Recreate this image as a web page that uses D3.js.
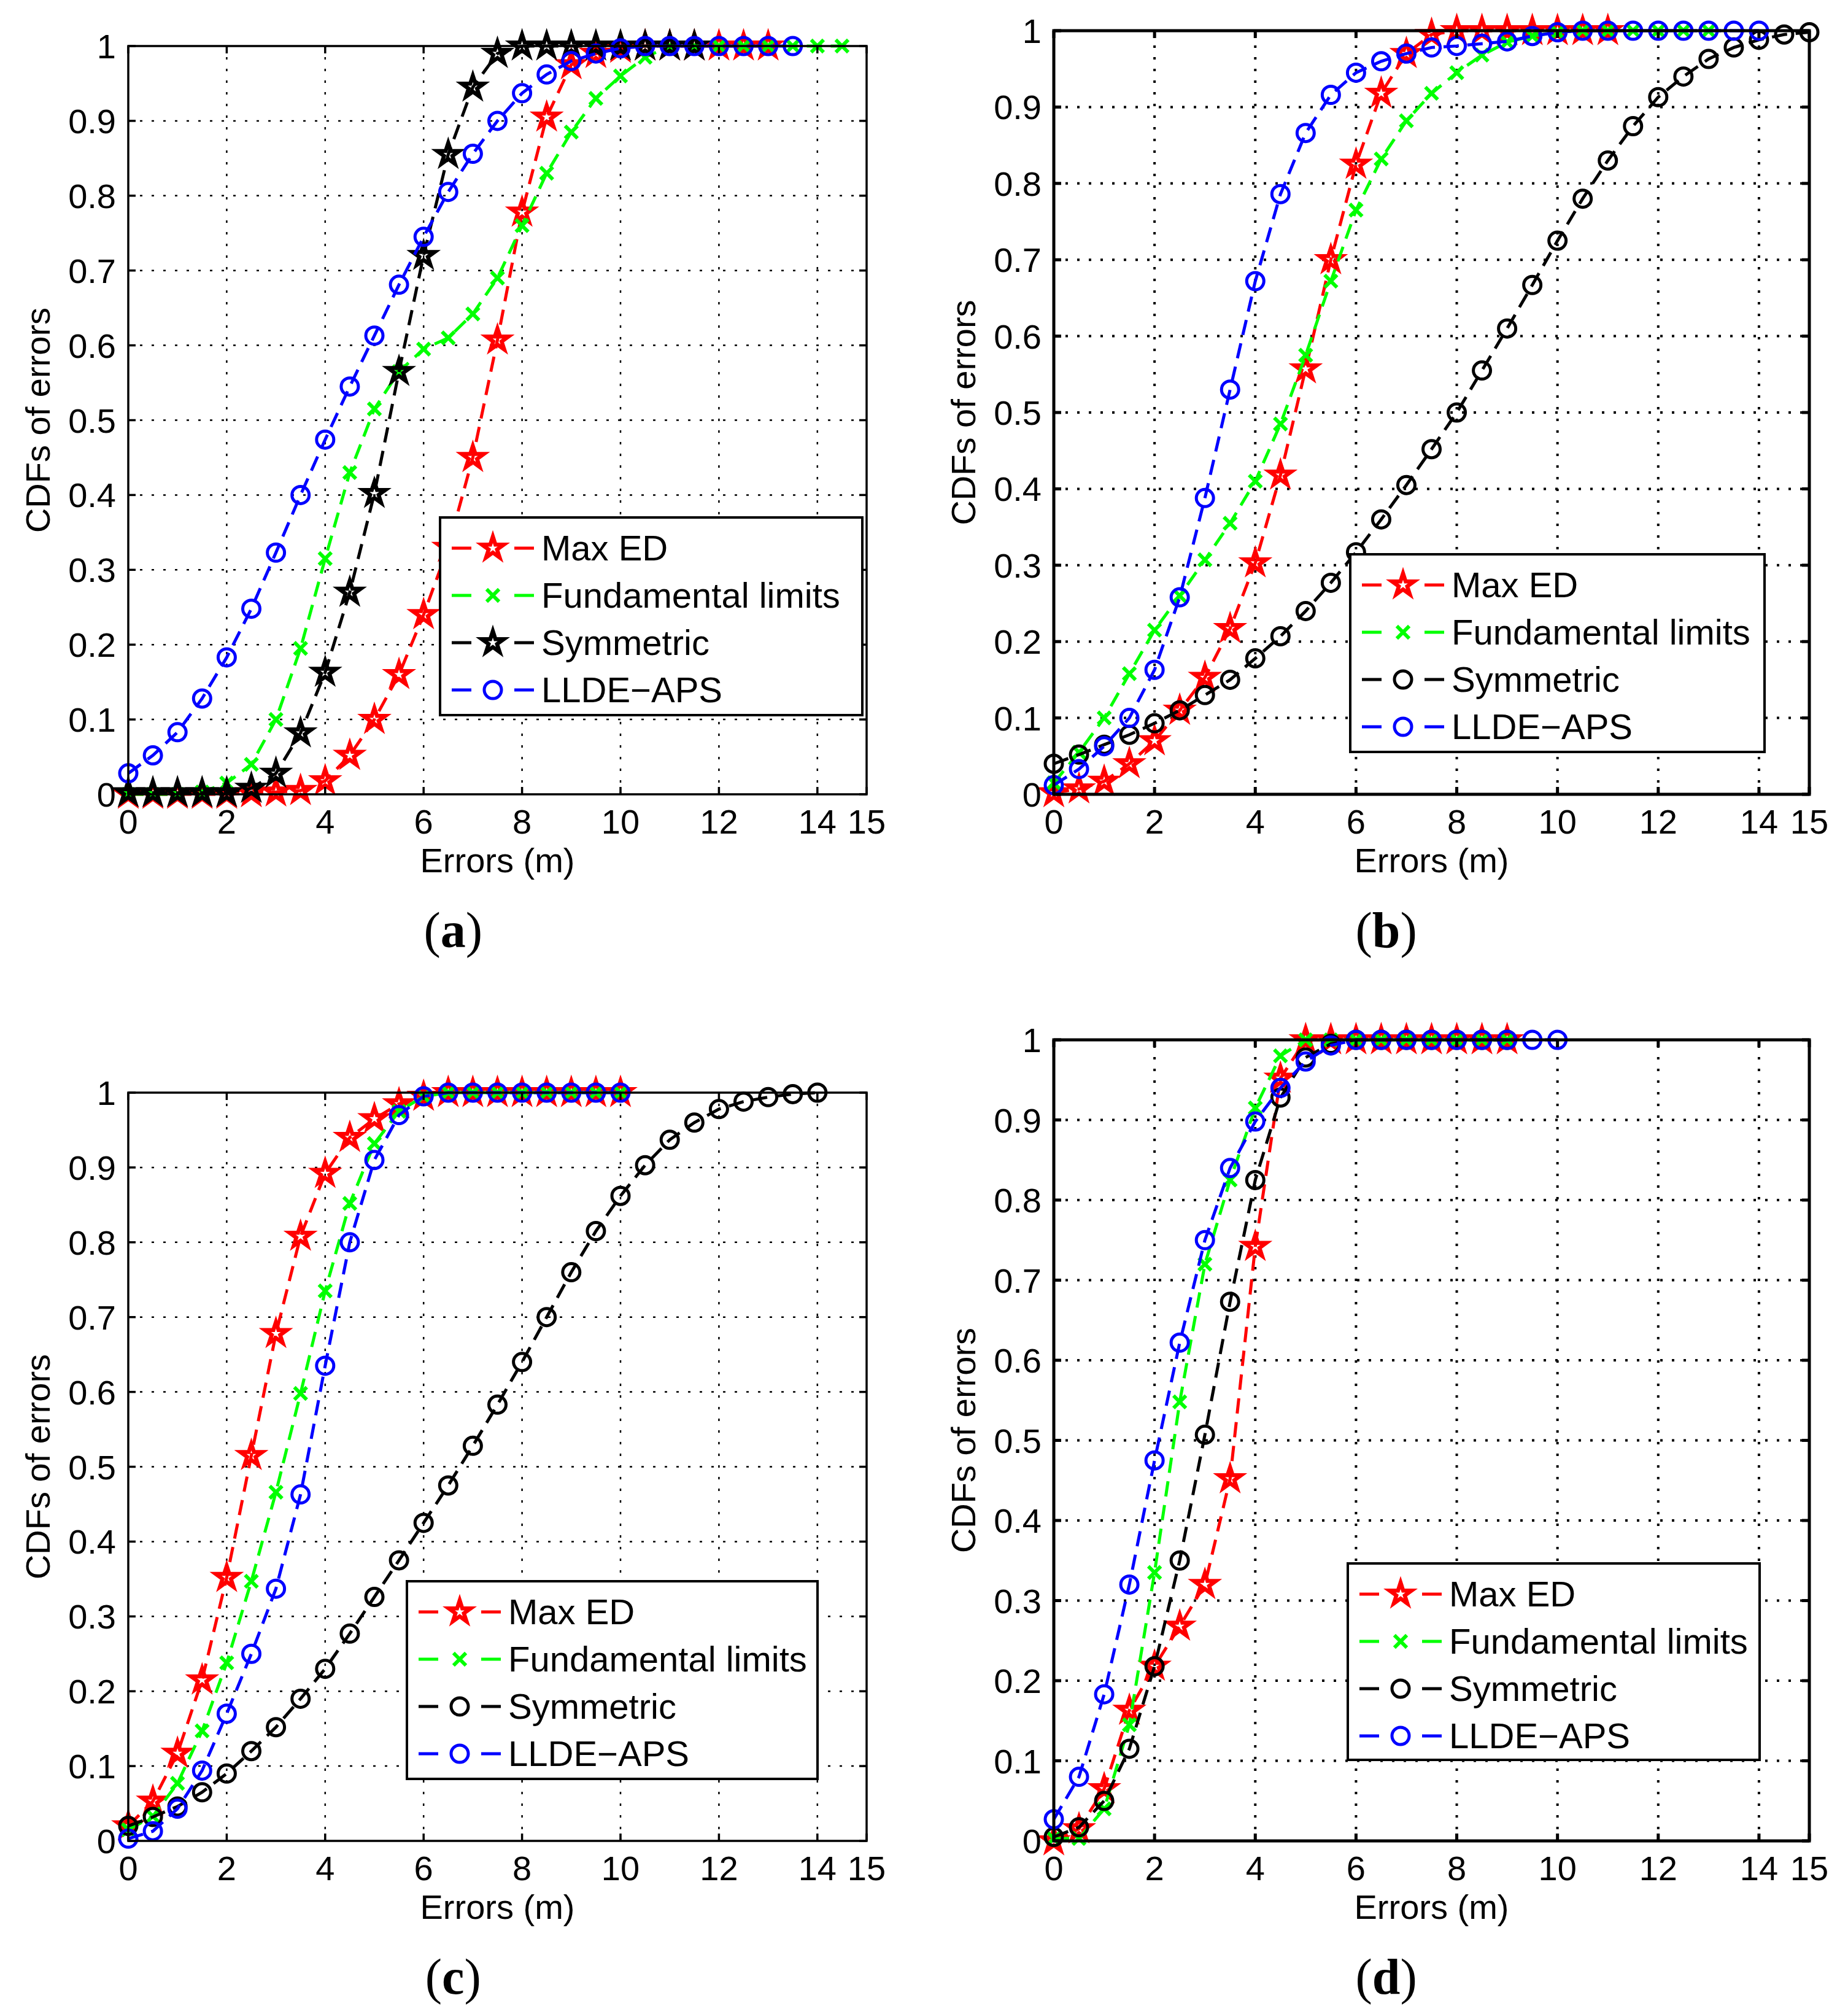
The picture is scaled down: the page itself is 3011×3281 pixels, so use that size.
<!DOCTYPE html>
<html>
<head>
<meta charset="utf-8">
<script src="https://cdn.jsdelivr.net/npm/d3@7"></script>
<style>
  html, body { margin: 0; padding: 0; background: #fff; }
  svg { display: block; }
</style>
</head>
<body>
<div id="chart"></div>
<script>
// x positions shared by every curve (errors in metres)
const errorsM = [0, 0.5, 1, 1.5, 2, 2.5, 3, 3.5, 4, 4.5, 5, 5.5, 6, 6.5, 7, 7.5,
                 8, 8.5, 9, 9.5, 10, 10.5, 11, 11.5, 12, 12.5, 13, 13.5, 14, 14.5, 15];

const seriesNames = ['Max ED', 'Fundamental limits', 'Symmetric', 'LLDE\u2212APS'];
const xTicks = [0, 2, 4, 6, 8, 10, 12, 14, 15];
const yTicks = [0, 0.1, 0.2, 0.3, 0.4, 0.5, 0.6, 0.7, 0.8, 0.9, 1];
const yTickLabels = ['0', '0.1', '0.2', '0.3', '0.4', '0.5', '0.6', '0.7', '0.8', '0.9', '1'];

// (a)
const aMaxED = [0, 0, 0, 0, 0, 0.002, 0.003, 0.005, 0.018, 0.052, 0.10, 0.16, 0.24, 0.33, 0.45, 0.607,
                0.778, 0.905, 0.975, 0.99, 0.997, 1, 1, 1, 1, 1, 1];
const aFund = [0, 0, 0, 0.003, 0.015, 0.04, 0.10, 0.195, 0.315, 0.43, 0.515, 0.565, 0.595, 0.61, 0.642, 0.69,
               0.76, 0.83, 0.885, 0.93, 0.96, 0.985, 1, 1, 1, 1, 1, 1, 1, 1];
const aSym = [0.002, 0.002, 0.002, 0.002, 0.002, 0.008, 0.028, 0.082, 0.163, 0.27, 0.402, 0.565, 0.72, 0.855,
              0.945, 0.99, 1, 1, 1, 1, 1, 1, 1, 1];
const aLLDE = [0.028, 0.052, 0.083, 0.128, 0.183, 0.248, 0.323, 0.40, 0.474, 0.545, 0.613, 0.681, 0.745, 0.805,
               0.856, 0.90, 0.937, 0.962, 0.98, 0.99, 0.997, 1, 1, 1, 1, 1, 1, 1];

// (b)
const bMaxED = [0.002, 0.007, 0.017, 0.04, 0.07, 0.11, 0.153, 0.217, 0.303, 0.418, 0.557, 0.70, 0.825, 0.918,
                0.97, 0.995, 1, 1, 1, 1, 1, 1, 1];
const bFund = [0.015, 0.055, 0.10, 0.158, 0.215, 0.26, 0.307, 0.355, 0.41, 0.485, 0.575, 0.672, 0.765, 0.832,
               0.882, 0.918, 0.945, 0.968, 0.985, 0.993, 0.998, 1, 1, 1, 1, 1, 1];
const bSym = [0.04, 0.052, 0.065, 0.078, 0.093, 0.11, 0.13, 0.15, 0.178, 0.207, 0.24, 0.277, 0.317, 0.36,
              0.405, 0.452, 0.50, 0.555, 0.61, 0.667, 0.725, 0.78, 0.83, 0.875, 0.913, 0.94, 0.963, 0.978,
              0.988, 0.995, 0.998];
const bLLDE = [0.012, 0.033, 0.063, 0.10, 0.163, 0.258, 0.388, 0.53, 0.672, 0.786, 0.866, 0.916, 0.945, 0.96,
               0.97, 0.978, 0.98, 0.983, 0.986, 0.993, 0.998, 1, 1, 1, 1, 1, 1, 1, 1];

// (c)
const cMaxED = [0.02, 0.053, 0.117, 0.215, 0.352, 0.515, 0.678, 0.808, 0.892, 0.94, 0.965, 0.985, 0.995, 1,
                1, 1, 1, 1, 1, 1, 1];
const cFund = [0.015, 0.033, 0.077, 0.147, 0.238, 0.347, 0.466, 0.598, 0.735, 0.852, 0.932, 0.975, 0.995, 1,
               1, 1, 1, 1, 1, 1, 1];
const cSym = [0.02, 0.032, 0.046, 0.065, 0.09, 0.12, 0.152, 0.19, 0.23, 0.277, 0.326, 0.375, 0.425, 0.475,
              0.528, 0.583, 0.64, 0.70, 0.76, 0.815, 0.862, 0.903, 0.937, 0.96, 0.978, 0.988, 0.994, 0.998, 1];
const cLLDE = [0.003, 0.013, 0.043, 0.094, 0.17, 0.25, 0.337, 0.463, 0.635, 0.80, 0.91, 0.97, 0.995, 1,
               1, 1, 1, 1, 1, 1, 1];

// (d)
const dMaxED = [0, 0.015, 0.065, 0.163, 0.218, 0.268, 0.32, 0.452, 0.742, 0.952, 1, 1, 1, 1, 1, 1, 1, 1, 1];
const dFund = [0.003, 0.003, 0.04, 0.145, 0.335, 0.548, 0.72, 0.825, 0.915, 0.98, 1, 1, 1, 1, 1, 1, 1, 1, 1];
const dSym = [0.005, 0.017, 0.05, 0.115, 0.218, 0.35, 0.507, 0.673, 0.825, 0.928, 0.978, 0.995, 1, 1, 1, 1,
              1, 1, 1];
const dLLDE = [0.027, 0.08, 0.183, 0.32, 0.475, 0.622, 0.75, 0.84, 0.898, 0.94, 0.973, 0.993, 1, 1, 1, 1,
               1, 1, 1, 1, 1];

const colors = ['#ff0000', '#00ff00', '#000000', '#0000ff'];

const panels = [
    {label: 'a', box: {l: 209, r: 1412, t: 75, b: 1294}, data: [aMaxED, aFund, aSym, aLLDE],
     markers: ['star', 'x', 'star', 'circle'], legend: {x: 717, y: 843, w: 688, h: 322}, grid: 2.5, frame: 3.5},
    {label: 'b', box: {l: 1717, r: 2948, t: 50, b: 1294}, data: [bMaxED, bFund, bSym, bLLDE],
     markers: ['star', 'x', 'circle', 'circle'], legend: {x: 2200, y: 903, w: 675, h: 322}, grid: 4, frame: 5},
    {label: 'c', box: {l: 209, r: 1412, t: 1780, b: 2999}, data: [cMaxED, cFund, cSym, cLLDE],
     markers: ['star', 'x', 'circle', 'circle'], legend: {x: 663, y: 2576, w: 669, h: 322}, grid: 2.5, frame: 3.5},
    {label: 'd', box: {l: 1717, r: 2948, t: 1694, b: 2999}, data: [dMaxED, dFund, dSym, dLLDE],
     markers: ['star', 'x', 'circle', 'circle'], legend: {x: 2196, y: 2547, w: 671, h: 320}, grid: 4, frame: 5},
];

const font = '"Liberation Sans", Arial, Helvetica, sans-serif';
const lineW = 5;
const dash = '25,14';
const starSym = d3.symbol(d3.symbolStar, 400);

const svg = d3.select('#chart')
    .append('svg')
    .attr('width', 3011)
    .attr('height', 3281)
    .attr('viewBox', '0 0 3011 3281');

svg.append('rect').attr('width', 3011).attr('height', 3281).attr('fill', '#fff');

function drawMarker(g, type, cx, cy, color) {
    if (type === 'star') {
        g.append('path')
            .attr('d', starSym())
            .attr('transform', `translate(${cx},${cy})`)
            .attr('fill', 'none')
            .attr('stroke', color)
            .attr('stroke-width', 6.5)
            .attr('stroke-linejoin', 'miter');
    } else if (type === 'circle') {
        g.append('circle')
            .attr('cx', cx).attr('cy', cy).attr('r', 14)
            .attr('fill', 'none')
            .attr('stroke', color)
            .attr('stroke-width', 5);
    } else {
        const s = 8;
        g.append('path')
            .attr('d', `M${cx - s},${cy - s}L${cx + s},${cy + s}M${cx - s},${cy + s}L${cx + s},${cy - s}`)
            .attr('stroke', color)
            .attr('stroke-width', 6)
            .attr('stroke-linecap', 'square');
    }
}

panels.forEach(p => {
    const b = p.box;
    const x = d3.scaleLinear().domain([0, 15]).range([b.l, b.r]);
    const y = d3.scaleLinear().domain([0, 1]).range([b.b, b.t]);
    const g = svg.append('g');

    // dotted grid
    const grid = g.append('g')
        .attr('stroke', '#000')
        .attr('stroke-width', p.grid)
        .attr('stroke-dasharray', '4,15');
    xTicks.filter(t => t > 0 && t < 15).forEach(t => {
        grid.append('line').attr('x1', x(t)).attr('x2', x(t)).attr('y1', b.b).attr('y2', b.t);
    });
    yTicks.filter(t => t > 0 && t < 1).forEach(t => {
        grid.append('line').attr('y1', y(t)).attr('y2', y(t)).attr('x1', b.l).attr('x2', b.r);
    });

    // curves
    const line = d3.line()
        .x((d, i) => x(errorsM[i]))
        .y(d => y(d));

    p.data.forEach((vals, si) => {
        const sg = g.append('g');
        sg.append('path')
            .datum(vals)
            .attr('d', line)
            .attr('fill', 'none')
            .attr('stroke', colors[si])
            .attr('stroke-width', lineW)
            .attr('stroke-dasharray', dash);
        vals.forEach((v, i) => drawMarker(sg, p.markers[si], x(errorsM[i]), y(v), colors[si]));
    });

    // box with inward ticks on every side
    const axes = g.append('g').attr('stroke', '#000').attr('stroke-width', p.frame).attr('fill', 'none');
    axes.append('rect')
        .attr('x', b.l).attr('y', b.t)
        .attr('width', b.r - b.l).attr('height', b.b - b.t);
    const tl = 12;
    xTicks.forEach(t => {
        axes.append('line').attr('x1', x(t)).attr('x2', x(t)).attr('y1', b.b).attr('y2', b.b - tl);
        axes.append('line').attr('x1', x(t)).attr('x2', x(t)).attr('y1', b.t).attr('y2', b.t + tl);
    });
    yTicks.forEach(t => {
        axes.append('line').attr('y1', y(t)).attr('y2', y(t)).attr('x1', b.l).attr('x2', b.l + tl);
        axes.append('line').attr('y1', y(t)).attr('y2', y(t)).attr('x1', b.r).attr('x2', b.r - tl);
    });

    // tick labels
    const txt = g.append('g').attr('font-family', font).attr('font-size', 56).attr('fill', '#000');
    xTicks.forEach(t => {
        txt.append('text')
            .attr('x', x(t)).attr('y', b.b + 64)
            .attr('text-anchor', 'middle')
            .text(t);
    });
    yTicks.forEach((t, i) => {
        txt.append('text')
            .attr('x', b.l - 20).attr('y', y(t) + 20)
            .attr('text-anchor', 'end')
            .text(yTickLabels[i]);
    });

    // axis titles
    txt.append('text')
        .attr('x', (b.l + b.r) / 2).attr('y', b.b + 127)
        .attr('text-anchor', 'middle')
        .attr('font-size', 56)
        .text('Errors (m)');
    txt.append('text')
        .attr('transform', `translate(${b.l - 128},${(b.t + b.b) / 2}) rotate(-90)`)
        .attr('text-anchor', 'middle')
        .attr('font-size', 56)
        .text('CDFs of errors');

    // panel caption
    const cap = g.append('text')
        .attr('x', b.l + 0.44 * (b.r - b.l)).attr('y', b.b + 249)
        .attr('text-anchor', 'middle')
        .attr('font-family', '"Liberation Serif", "DejaVu Serif", serif')
        .attr('font-size', 82);
    cap.append('tspan').text('(');
    cap.append('tspan').attr('font-weight', 'bold').text(p.label);
    cap.append('tspan').text(')');

    // legend
    const L = p.legend;
    const lg = g.append('g');
    lg.append('rect')
        .attr('x', L.x).attr('y', L.y).attr('width', L.w).attr('height', L.h)
        .attr('fill', '#fff').attr('stroke', '#000').attr('stroke-width', 4);
    seriesNames.forEach((name, si) => {
        const ry = L.y + 50 + si * 77;
        lg.append('line')
            .attr('x1', L.x + 19).attr('x2', L.x + 153)
            .attr('y1', ry).attr('y2', ry)
            .attr('stroke', colors[si])
            .attr('stroke-width', lineW)
            .attr('stroke-dasharray', '32,70,32');
        drawMarker(lg, p.markers[si], L.x + 86, ry, colors[si]);
        lg.append('text')
            .attr('x', L.x + 165).attr('y', ry + 20)
            .attr('font-family', font)
            .attr('font-size', 58)
            .text(name);
    });
});
</script>
</body>
</html>
